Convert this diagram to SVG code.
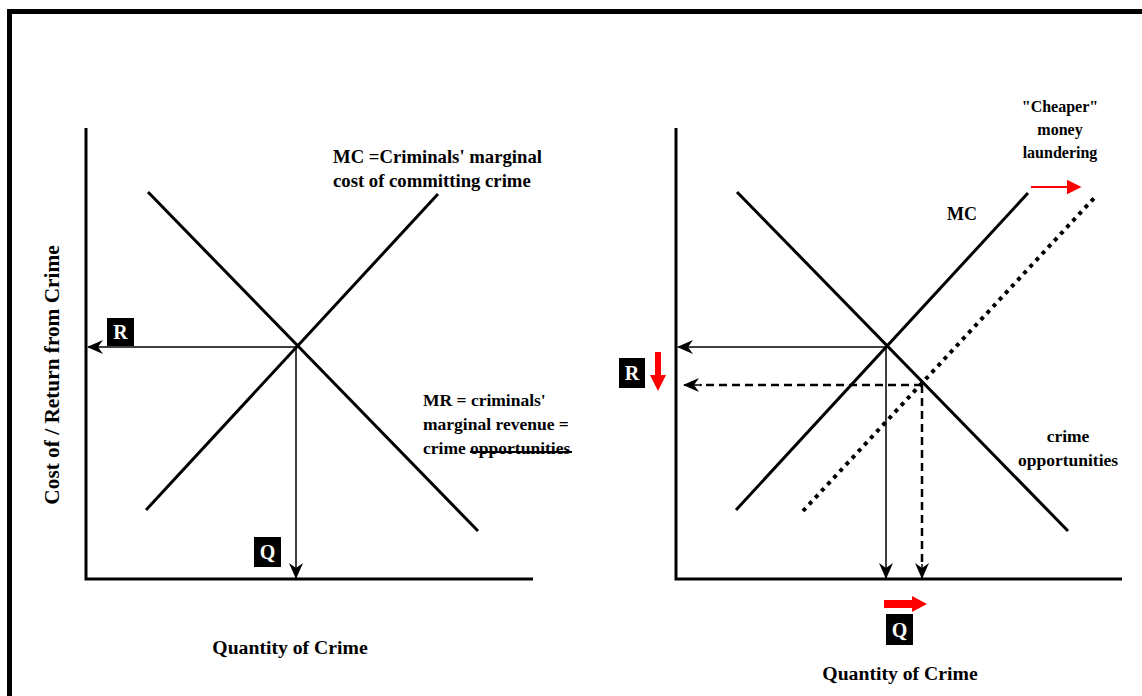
<svg xmlns="http://www.w3.org/2000/svg" width="1142" height="696" viewBox="0 0 1142 696">
<defs>
<style>
.t{font-family:"Liberation Serif","Times New Roman",serif;font-weight:bold;fill:#000}
.w{font-family:"Liberation Serif","Times New Roman",serif;font-weight:bold;font-size:20px;fill:#fff}
.axis{stroke:#000;stroke-width:3;fill:none}
.curve{stroke:#000;stroke-width:3;fill:none}
.arr{stroke:#000;stroke-width:1.5;fill:none}
.dash{stroke:#000;stroke-width:2.5;fill:none;stroke-dasharray:8 5}
</style>
<marker id="ah" viewBox="0 0 16 14" refX="15" refY="7" markerWidth="16" markerHeight="14" markerUnits="userSpaceOnUse" orient="auto">
<path d="M0,0 L16,7 L0,14 L5,7 Z" fill="#000"/>
</marker>
<marker id="rh" viewBox="0 0 10 10" refX="9" refY="5" markerWidth="15" markerHeight="15" markerUnits="userSpaceOnUse" orient="auto">
<path d="M0,0 L10,5 L0,10 Z" fill="#ff0000"/>
</marker>
</defs>
<rect width="1142" height="696" fill="#fff"/>
<!-- frame -->
<path d="M9.5,696 V11.5 H1142" stroke="#000" stroke-width="5" fill="none"/>

<!-- left chart -->
<g id="left-axes">
<path class="axis" d="M86,128 V579 H533"/>
</g>
<g id="left-curves">
<line class="curve" x1="146" y1="510" x2="438" y2="194"/>
<line class="curve" x1="148" y1="192" x2="478" y2="531"/>
</g>
<g id="left-connectors">
<line class="arr" x1="296" y1="347" x2="88" y2="347" marker-end="url(#ah)"/>
<line class="arr" x1="296" y1="347" x2="296" y2="578" marker-end="url(#ah)"/>
</g>
<g id="left-R">
<rect x="107" y="318" width="27" height="28" fill="#000"/>
<text class="w" x="120.5" y="339" text-anchor="middle">R</text>
</g>
<g id="left-Q">
<rect x="254" y="537" width="27" height="30" fill="#000"/>
<text class="w" x="267.5" y="559" text-anchor="middle">Q</text>
</g>
<g id="left-mc-label" class="t" style="font-size:18.7px">
<text x="333" y="163">MC =Criminals' marginal</text>
<text x="333" y="187">cost of committing crime</text>
</g>
<g id="left-mr-label" class="t" style="font-size:17.5px">
<text x="423" y="406">MR = criminals'</text>
<text x="423" y="430">marginal revenue =</text>
<text x="423" y="454">crime opportunities</text>
<line x1="470" y1="452" x2="572" y2="452" stroke="#000" stroke-width="2"/>
</g>
<text class="t" x="290" y="654" text-anchor="middle" style="font-size:19.7px">Quantity of Crime</text>
<text class="t" transform="translate(59,375) rotate(-90)" text-anchor="middle" style="font-size:21.3px">Cost of / Return from  Crime</text>

<!-- right chart -->
<g id="right-axes">
<path class="axis" d="M676,128 V579 H1122"/>
</g>
<g id="right-curves">
<line class="curve" x1="736" y1="510" x2="1028" y2="193"/>
<line class="curve" x1="737" y1="192" x2="1068" y2="531"/>
<line x1="803" y1="511" x2="1096" y2="196" stroke="#000" stroke-width="4" stroke-dasharray="4 5"/>
</g>
<g id="right-connectors">
<line class="arr" x1="886" y1="347" x2="678" y2="347" marker-end="url(#ah)"/>
<line class="arr" x1="886" y1="347" x2="886" y2="578" marker-end="url(#ah)"/>
<line class="dash" x1="922" y1="385" x2="700" y2="385"/>
<line class="arr" x1="702" y1="385" x2="684" y2="385" marker-end="url(#ah)" stroke="#999"/>
<line class="dash" x1="922" y1="385" x2="922" y2="566"/>
<line class="arr" x1="922" y1="564" x2="922" y2="578" marker-end="url(#ah)"/>
<!-- shift arrows -->
<polygon points="655,352 661,352 661,375 666,375 658,391 650,375 655,375" fill="#ff0000"/>
<polygon points="884,600 912,600 912,596 927,604 912,612 912,608 884,608" fill="#ff0000"/>
<line x1="1031" y1="187" x2="1080" y2="187" stroke="#ff0000" stroke-width="2" marker-end="url(#rh)"/>
</g>
<g id="right-R">
<rect x="619" y="358" width="26" height="30" fill="#000"/>
<text class="w" x="632" y="380" text-anchor="middle">R</text>
</g>
<g id="right-Q">
<rect x="886" y="614" width="27" height="31" fill="#000"/>
<text class="w" x="899.5" y="637" text-anchor="middle">Q</text>
</g>
<text class="t" x="962" y="220" text-anchor="middle" style="font-size:18px">MC</text>
<g id="right-mr-label" class="t" text-anchor="middle" style="font-size:17.5px">
<text x="1068" y="442">crime</text>
<text x="1068" y="466">opportunities</text>
</g>
<g id="laundering-label" class="t" text-anchor="middle" style="font-size:16px">
<text x="1060" y="112">"Cheaper"</text>
<text x="1060" y="135">money</text>
<text x="1060" y="158">laundering</text>
</g>
<text class="t" x="900" y="680" text-anchor="middle" style="font-size:19.7px">Quantity of Crime</text>
</svg>
